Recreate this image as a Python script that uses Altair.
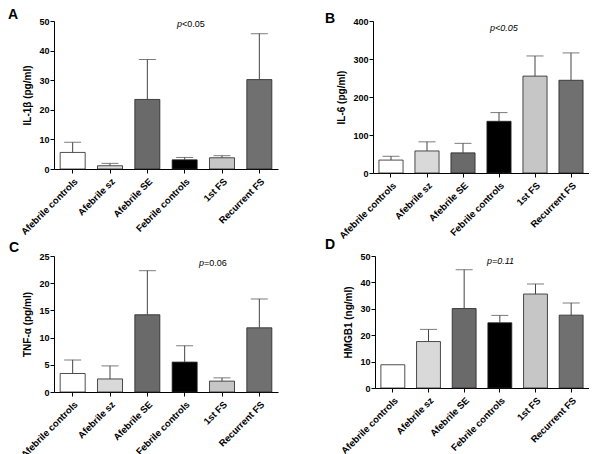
import altair as alt
import pandas as pd

categories = ["Afebrile controls", "Afebrile sz", "Afebrile SE",
              "Febrile controls", "1st FS", "Recurrent FS"]
fills = ["#ffffff", "#d9d9d9", "#6a6a6a", "#000000", "#c6c6c6", "#707070"]

il1b_mean = [5.6, 1.1, 23.5, 3.1, 3.8, 30.2]
il1b_upper = [9.0, 1.9, 37.0, 3.9, 4.5, 45.7]
il6_mean = [34, 58, 53, 136, 255, 244]
il6_upper = [44, 82, 78, 159, 308, 316]
tnf_mean = [3.4, 2.4, 14.2, 5.5, 2.0, 11.8]
tnf_upper = [5.9, 4.8, 22.3, 8.5, 2.6, 17.1]
hmgb1_mean = [8.8, 17.6, 30.1, 24.7, 35.6, 27.6]
hmgb1_upper = [None, 22.2, 44.8, 27.5, 39.4, 32.2]

FONT = "Liberation Sans"


def txt(s, x, y, size=9, weight="normal", style="normal", align="left",
        baseline="alphabetic"):
    return alt.Chart(pd.DataFrame({"t": [s]})).mark_text(
        font=FONT, fontSize=size, fontWeight=weight, fontStyle=style,
        align=align, baseline=baseline, color="black"
    ).encode(x=alt.value(x), y=alt.value(y), text="t:N")


def panel(mean, upper, ytitle, ymax, ystep, w, h, letter, lx, ly, ptexts):
    df = pd.DataFrame({"cat": categories, "mean": mean, "upper": upper})
    base = alt.Chart(df)
    x = alt.X("cat:N", sort=categories,
              scale=alt.Scale(paddingInner=0.33, paddingOuter=0.165),
              axis=alt.Axis(title=None, labelAngle=-45, labelAlign="right",
                            labelBaseline="top", labelFontSize=9.5,
                            labelPadding=3, labelOverlap=False))
    yscale = alt.Scale(domain=[0, ymax], nice=False, zero=True)
    yaxis = alt.Axis(title=ytitle, values=list(range(0, ymax + 1, ystep)),
                     labelPadding=1, titlePadding=6, labelOverlap=False,
                     labelFontSize=9)
    bars = base.mark_bar(stroke="#222222", strokeWidth=0.8).encode(
        x=x,
        y=alt.Y("mean:Q", scale=yscale, axis=yaxis, title=ytitle),
        fill=alt.Fill("cat:N", scale=alt.Scale(domain=categories, range=fills),
                      legend=None),
    )
    err = base.transform_filter("datum.upper != null")
    rules = err.mark_rule(color="#444444", strokeWidth=1).encode(
        x=x, y=alt.Y("mean:Q", scale=yscale, axis=yaxis, title=ytitle),
        y2="upper:Q")
    caps = err.mark_tick(color="#444444", size=17, thickness=1).encode(
        x=x, y=alt.Y("upper:Q", scale=yscale, axis=yaxis, title=ytitle))
    layers = [bars, rules, caps,
              txt(letter, lx, ly, size=14, weight="bold", baseline="top")]
    for (s, px, py, style) in ptexts:
        layers.append(txt(s, px, py, size=9, style=style))
    return alt.layer(*layers).properties(width=w, height=h)


pA = panel(il1b_mean, il1b_upper, "IL-1β (pg/ml)", 50, 10, 224, 148,
           "A", -46, -13,
           [("p", 123, 6, "italic"), ("<0.05", 128, 6, "normal")])
pB = panel(il6_mean, il6_upper, "IL-6 (pg/ml)", 400, 100, 216, 152,
           "B", -48, -9,
           [("p<0.05", 117, 10, "italic")])
pC = panel(tnf_mean, tnf_upper, "TNF-α (pg/ml)", 25, 5, 224, 136,
           "C", -45, -15,
           [("p", 145, 10, "italic"), ("=0.06", 150, 10, "normal")])
pD = panel(hmgb1_mean, hmgb1_upper, "HMGB1 (ng/ml)", 50, 10, 214, 132,
           "D", -50, -18,
           [("p=0.11", 112, 8, "italic")])

row1 = alt.hconcat(pA, pB, spacing=47)
row2 = alt.hconcat(pC, pD, spacing=47)
chart = alt.vconcat(row1, row2, spacing=-3).properties(
    padding={"left": 0, "top": 0, "right": 0, "bottom": 0}
).configure_view(stroke=None).configure_axis(
    labelFont=FONT, labelFontWeight="bold", labelFontSize=9,
    labelColor="black", titleFont=FONT, titleFontWeight="bold",
    titleFontSize=10, titleColor="black", domainColor="black",
    tickColor="black", tickSize=4, grid=False, domainWidth=1, tickWidth=1
)

chart.save("out.html", embed_options={"renderer": "svg", "actions": False})
